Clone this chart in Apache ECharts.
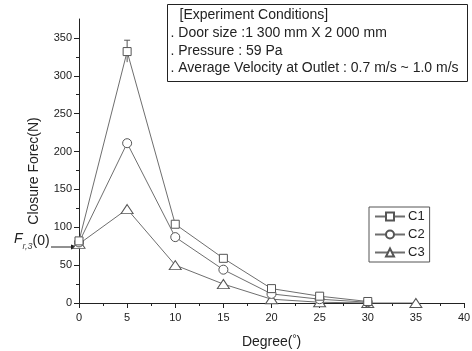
<!DOCTYPE html>
<html>
<head>
<meta charset="utf-8">
<script src="https://cdn.jsdelivr.net/npm/echarts@6/dist/echarts.min.js"></script>
<style>
  html, body { margin: 0; padding: 0; background: #fff; }
  #chart { width: 472px; height: 351px; }
</style>
</head>
<body>
<div id="chart"></div>
<script>
const degrees = [0, 5, 10, 15, 20, 25, 30, 35]
const c1 = [82, 332, 104, 59, 19, 9, 2, null]
const c2 = [80, 211, 87, 44, 12, 5, 1, null]
const c3 = [78, 124, 50, 25, 5, 1, 0, 0]
// [degree, low, high]
const c1Error = [[5, 318, 347]]
const yMajor = [0, 50, 100, 150, 200, 250, 300, 350]
const yMinor = [25, 75, 125, 175, 225, 275, 325]
const conditions = [
  '[Experiment Conditions]',
  '. Door size :1 300 mm X 2 000 mm',
  '. Pressure : 59 Pa',
  '. Average Velocity at Outlet : 0.7 m/s ~ 1.0 m/s'
]

const font = 'Liberation Sans'
const lineColor = '#6e6e6e'
const markStyle = { color: '#fff', borderColor: '#555', borderWidth: 1 }

function pairs(ys) {
  return degrees.map((d, i) => [d, ys[i]])
}

const chart = echarts.init(document.getElementById('chart'))

chart.setOption({
  animation: false,
  backgroundColor: '#fff',
  textStyle: { fontFamily: font },
  grid: { left: 79, right: 8, top: 19, bottom: 48, outerBoundsMode: 'none' },
  legend: {
    orient: 'vertical',
    left: 369,
    top: 207,
    padding: [3, 5, 3, 5],
    itemGap: 5,
    itemWidth: 30,
    itemHeight: 10,
    borderColor: '#555',
    borderWidth: 1,
    data: ['C1', 'C2', 'C3'],
    textStyle: { fontFamily: font, fontSize: 13, color: '#222', padding: [0, 0, 0, -2] }
  },
  xAxis: {
    type: 'value',
    min: 0,
    max: 40,
    interval: 5,
    name: '{t|Degree(}{d|°}{t|)}',
    nameLocation: 'middle',
    nameGap: 31,
    nameTextStyle: {
      rich: {
        t: { fontFamily: font, fontSize: 14, color: '#222' },
        d: { fontFamily: font, fontSize: 10, color: '#222', padding: [0, 0, 6, 0] }
      }
    },
    axisLine: { lineStyle: { color: '#222', width: 1 } },
    axisTick: { inside: false, length: 5, lineStyle: { color: '#222' } },
    minorTick: { show: true, splitNumber: 2, length: 3, lineStyle: { color: '#222' } },
    axisLabel: { fontFamily: font, fontSize: 11, color: '#222', margin: 9 },
    splitLine: { show: false }
  },
  yAxis: [
    {
      type: 'value',
      min: 0,
      max: 375,
      interval: 50,
      name: 'Closure Forec(N)',
      nameLocation: 'middle',
      nameGap: 38,
      nameTextStyle: { fontFamily: font, fontSize: 14, color: '#222', padding: [0, 0, 0, -20] },
      axisLine: { show: true, lineStyle: { color: '#222', width: 1 } },
      axisTick: { show: true, length: 5, customValues: yMajor, lineStyle: { color: '#222' } },
      axisLabel: { fontFamily: font, fontSize: 11, color: '#222', margin: 7, customValues: yMajor },
      splitLine: { show: false }
    },
    {
      type: 'value',
      min: 0,
      max: 375,
      position: 'left',
      axisLine: { show: false },
      axisTick: { show: true, length: 3, customValues: yMinor, lineStyle: { color: '#222' } },
      axisLabel: { show: false },
      splitLine: { show: false }
    }
  ],
  series: [
    {
      name: 'C1',
      type: 'line',
      data: pairs(c1),
      symbol: 'rect',
      symbolSize: 8,
      lineStyle: { color: lineColor, width: 1 },
      itemStyle: markStyle,
      z: 4
    },
    {
      name: 'C2',
      type: 'line',
      data: pairs(c2),
      symbol: 'circle',
      symbolSize: 9,
      lineStyle: { color: lineColor, width: 1 },
      itemStyle: markStyle,
      z: 3
    },
    {
      name: 'C3',
      type: 'line',
      data: pairs(c3),
      symbol: 'triangle',
      symbolSize: [12, 9],
      lineStyle: { color: lineColor, width: 1 },
      itemStyle: markStyle,
      z: 2
    },
    {
      name: 'C1 error',
      type: 'custom',
      data: c1Error,
      z: 1,
      renderItem: function (params, api) {
        const lo = api.coord([api.value(0), api.value(1)])
        const hi = api.coord([api.value(0), api.value(2)])
        const style = { stroke: '#555', lineWidth: 1 }
        return {
          type: 'group',
          children: [
            { type: 'line', shape: { x1: hi[0], y1: hi[1], x2: lo[0], y2: lo[1] }, style },
            { type: 'line', shape: { x1: hi[0] - 3, y1: hi[1], x2: hi[0] + 3, y2: hi[1] }, style }
          ]
        }
      }
    }
  ],
  graphic: [
    {
      type: 'group',
      left: 167,
      top: 4,
      children: [
        {
          type: 'rect',
          shape: { x: 0, y: 0, width: 300, height: 77 },
          style: { fill: '#fff', stroke: '#222', lineWidth: 1 }
        }
      ].concat(conditions.map((t, i) => ({
        type: 'text',
        x: i === 0 ? 12 : 3,
        y: 11 + i * 17.7,
        style: {
          text: t,
          font: '14px "Liberation Sans"',
          fill: '#222',
          verticalAlign: 'middle'
        }
      })))
    },
    {
      type: 'text',
      left: 14,
      top: 232,
      style: {
        text: '{f|F}{s|r,3}{n|(0)}',
        rich: {
          f: { font: 'italic 14px "Liberation Sans"', fill: '#222', verticalAlign: 'top' },
          s: { font: 'italic 9px "Liberation Sans"', fill: '#444', padding: [10, 0, 0, 0] },
          n: { font: '14px "Liberation Sans"', fill: '#222' }
        }
      }
    },
    {
      type: 'line',
      shape: { x1: 51, y1: 247, x2: 73, y2: 247 },
      style: { stroke: '#222', lineWidth: 1 }
    },
    {
      type: 'polygon',
      shape: { points: [[78, 247], [71, 244.5], [71, 249.5]] },
      style: { fill: '#222' }
    }
  ]
})
</script>
</body>
</html>
